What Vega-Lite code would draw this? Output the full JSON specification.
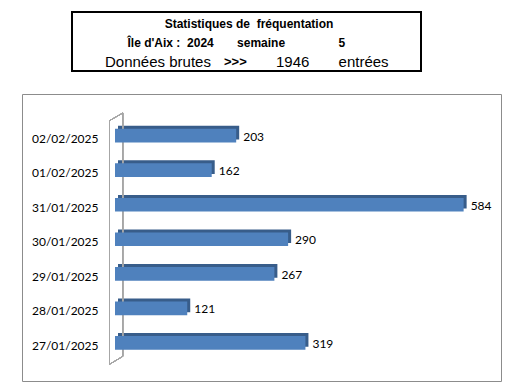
{
  "$schema": "https://vega.github.io/schema/vega-lite/v6.json",
  "padding": {"left": 21, "top": 11, "right": 5, "bottom": 5},
  "background": "white",
  "config": {"font": "Liberation Sans"},
  "spacing": 21,
  "vconcat": [
    {
      "spacing": 0,
      "hconcat": [
        {
          "width": 49,
          "height": 59,
          "view": {"stroke": null, "fill": "white"},
          "data": {"values": [{"vide": ""}]},
          "mark": {"type": "text"},
          "encoding": {"text": {"field": "vide"}}
        },
        {
          "width": 349,
          "height": 59,
          "view": {"stroke": "black", "strokeWidth": 2, "fill": "white"},
          "data": {"values": [
            {"ligne": 1, "texte": "Statistiques de\u00a0 fréquentation"},
            {"ligne": 2, "texte": "Île d'Aix :\u00a0 2024\u00a0\u00a0\u00a0\u00a0\u00a0\u00a0\u00a0semaine\u00a0\u00a0\u00a0\u00a0\u00a0\u00a0\u00a0\u00a0\u00a0\u00a0\u00a0\u00a0\u00a0\u00a0\u00a0\u00a05"},
            {"ligne": 3, "texte": "Données brutes"},
            {"ligne": 3, "texte": ">>>"},
            {"ligne": 3, "texte": "1946\u00a0\u00a0\u00a0\u00a0\u00a0\u00a0\u00a0entrées"}
          ]},
          "encoding": {
            "y": {
              "field": "ligne", "type": "ordinal",
              "scale": {"type": "point", "domain": [1, 2, 3], "padding": 0.53, "align": 0.57},
              "axis": null
            },
            "text": {"field": "texte"}
          },
          "layer": [
            {
              "transform": [{"filter": "datum.ligne == 1"}],
              "mark": {"type": "text", "font": "Liberation Sans", "fontSize": 12, "fontWeight": "bold", "align": "center", "baseline": "middle", "dx": 2.5, "color": "black"}
            },
            {
              "transform": [{"filter": "datum.ligne == 2"}],
              "mark": {"type": "text", "font": "Liberation Sans", "fontSize": 12, "fontWeight": "bold", "align": "left", "baseline": "middle", "dx": -119, "color": "black"}
            },
            {
              "transform": [{"filter": "datum.texte == 'Données brutes'"}],
              "mark": {"type": "text", "font": "Liberation Sans", "fontSize": 15, "align": "left", "baseline": "middle", "dx": -141.5, "color": "black"}
            },
            {
              "transform": [{"filter": "datum.texte == '>>>'"}],
              "mark": {"type": "text", "font": "Liberation Sans", "fontSize": 13, "fontWeight": "bold", "align": "left", "baseline": "middle", "dx": -22.5, "color": "black"}
            },
            {
              "transform": [{"filter": "datum.ligne == 3 && indexof(datum.texte, '1946') == 0"}],
              "mark": {"type": "text", "font": "Liberation Sans", "fontSize": 15, "align": "left", "baseline": "middle", "dx": 29.5, "color": "black"}
            }
          ]
        }
      ]
    },
    {
      "width": 479,
      "height": 287,
      "view": {"stroke": "#8C8C8C", "strokeWidth": 1},
      "data": {"values": [
        {"date": "02/02/2025", "entrees": 203},
        {"date": "01/02/2025", "entrees": 162},
        {"date": "31/01/2025", "entrees": 584},
        {"date": "30/01/2025", "entrees": 290},
        {"date": "29/01/2025", "entrees": 267},
        {"date": "28/01/2025", "entrees": 121},
        {"date": "27/01/2025", "entrees": 319}
      ]},
      "layer": [
        {
          "mark": {"type": "bar", "color": "#385D8A", "xOffset": 3, "x2Offset": 3, "yOffset": -3},
          "encoding": {
            "x": {"field": "entrees", "type": "quantitative", "scale": {"domain": [-155.8, 646.6], "nice": false, "zero": false}, "axis": null},
            "y": {
              "field": "date", "type": "nominal", "sort": null,
              "scale": {"domain": ["02/02/2025", "01/02/2025", "31/01/2025", "30/01/2025", "29/01/2025", "28/01/2025", "27/01/2025"], "paddingInner": 0.604, "paddingOuter": 0.955, "align": 0.527},
              "axis": {"title": null, "domain": false, "ticks": false, "tickSize": 0, "grid": false, "labelAlign": "right", "labelBaseline": "middle", "labelPadding": -76, "labelOffset": 3, "labelFont": "Lato", "labelFontSize": 12, "labelColor": "black"}
            }
          }
        },
        {
          "mark": {"type": "rule", "color": "#A6A6A6", "strokeWidth": 1},
          "encoding": {
            "x": {"datum": -9.2},
            "y": {"datum": "02/02/2025", "bandPosition": -0.593},
            "y2": {"datum": "27/01/2025", "bandPosition": 2.06}
          }
        },
        {
          "mark": {"type": "rule", "color": "#A6A6A6", "strokeWidth": 1},
          "encoding": {
            "x": {"datum": 13.1},
            "y": {"datum": "02/02/2025", "bandPosition": -1.155},
            "y2": {"datum": "27/01/2025", "bandPosition": 1.48}
          }
        },
        {
          "mark": {"type": "rule", "color": "#A6A6A6", "strokeWidth": 1},
          "encoding": {
            "x": {"datum": -9.2},
            "x2": {"datum": 13.1},
            "y": {"datum": "02/02/2025", "bandPosition": -0.593},
            "y2": {"datum": "02/02/2025", "bandPosition": -1.155}
          }
        },
        {
          "mark": {"type": "rule", "color": "#A6A6A6", "strokeWidth": 1},
          "encoding": {
            "x": {"datum": -9.2},
            "x2": {"datum": 13.1},
            "y": {"datum": "27/01/2025", "bandPosition": 2.06},
            "y2": {"datum": "27/01/2025", "bandPosition": 1.48}
          }
        },
        {
          "mark": {"type": "bar", "color": "#4F81BD"},
          "encoding": {
            "x": {"field": "entrees", "type": "quantitative"},
            "y": {"field": "date", "type": "nominal", "sort": null}
          }
        },
        {
          "mark": {"type": "text", "align": "left", "baseline": "middle", "dx": 7, "dy": 1, "font": "Lato", "fontSize": 12, "color": "black"},
          "encoding": {
            "x": {"field": "entrees", "type": "quantitative"},
            "y": {"field": "date", "type": "nominal", "sort": null},
            "text": {"field": "entrees", "type": "quantitative"}
          }
        }
      ]
    }
  ]
}
